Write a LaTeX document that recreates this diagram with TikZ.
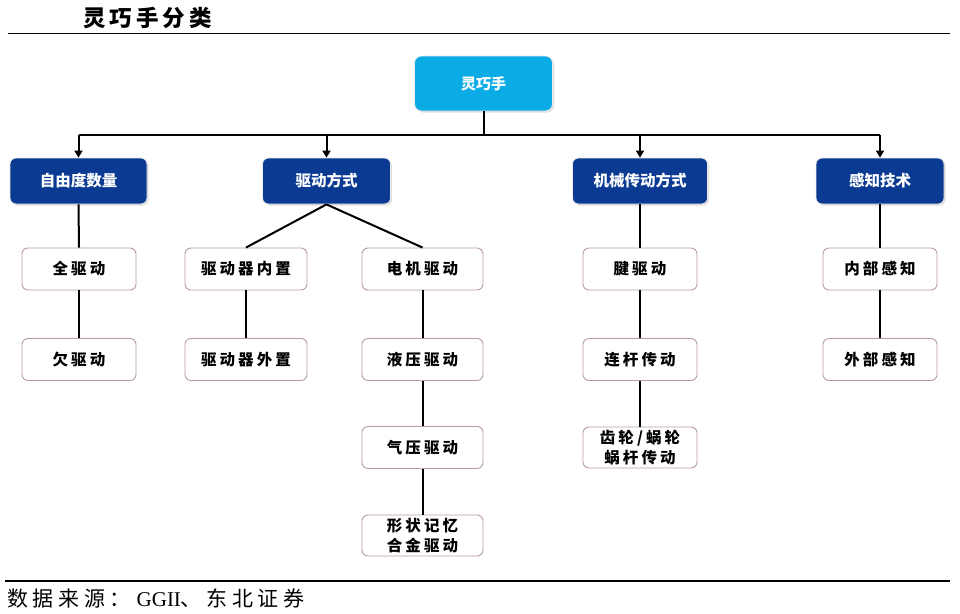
\documentclass[tikz,border=0pt]{standalone}
\usepackage{fontspec}
\setmainfont{Liberation Serif}
\newfontfamily\cjk{Noto Sans CJK SC}
\newfontfamily\cjkw{Noto Sans CJK SC}[LetterSpace=20]
\newfontfamily\cjkt{Noto Sans CJK SC}[LetterSpace=18]
\newfontfamily\cjkf{Noto Sans CJK SC}[LetterSpace=22]
\usetikzlibrary{arrows.meta,shadows}
\definecolor{rootc}{HTML}{0BABE6}
\definecolor{navy}{HTML}{0A3A92}
\definecolor{edgec}{HTML}{B89C9C}
\tikzset{
  rootbox/.style={rounded corners=7pt, fill=rootc, draw=white!85!gray, line width=0.8pt,
    minimum width=138pt, minimum height=55pt, inner sep=0pt,
    text=white, font=\cjk\bfseries\fontsize{15}{18}\selectfont,
    drop shadow={shadow xshift=1.5pt, shadow yshift=-1.5pt, opacity=0.25, fill=gray}},
  catbox/.style={rounded corners=6pt, fill=navy, draw=white!85!gray, line width=0.8pt,
    minimum height=46pt, inner sep=0pt,
    text=white, font=\cjk\bfseries\fontsize{15.5}{18}\selectfont,
    drop shadow={shadow xshift=1.5pt, shadow yshift=-1.5pt, opacity=0.25, fill=gray}},
  leafbox/.style={rounded corners=6pt, fill=white, draw=edgec, line width=0.9pt,
    minimum height=42pt, inner sep=0pt, align=center,
    text=black, font=\cjkw\bfseries\fontsize{15.5}{20}\selectfont},
  conn/.style={line width=2pt, black},
  arr/.style={line width=2pt, black, -{Triangle[width=8pt,length=7pt]}},
  rulel/.style={line width=1.6pt, black}
}
\begin{document}
\begin{tikzpicture}[x=1pt,y=-1pt]
\useasboundingbox (0,0) rectangle (960,613);
% title and rules
\node[anchor=west, inner sep=0pt, font=\cjkt\bfseries\fontsize{22.5}{24}\selectfont] (title) at (83,18) {灵巧手分类};
\coordinate (tl) at (8,33.5);
\coordinate (tr) at (950,33.5);
\draw[rulel] (tl) -- (tr);
\coordinate (fl) at (5,581);
\coordinate (fr) at (950,581);
\draw[rulel] (fl) -- (fr);
\node[anchor=west, inner sep=0pt, font=\fontsize{21}{24}\selectfont] (src) at (7,598) {\cjkf 数据来源：\hspace{6pt}\rmfamily GGII\cjkf 、东北证券};

% root
\node[rootbox] (root) at (483.5,83.5) {灵巧手};
% categories
\node[catbox, minimum width=137pt] (b1) at (78.5,181) {自由度数量};
\node[catbox, minimum width=128pt] (b2) at (326.5,181) {驱动方式};
\node[catbox, minimum width=135pt] (b3) at (640,181) {机械传动方式};
\node[catbox, minimum width=128pt] (b4) at (880,181) {感知技术};

% leaves column 1
\node[leafbox, minimum width=114pt] (a1) at (79,269) {全驱动};
\node[leafbox, minimum width=114pt] (a2) at (79,359.5) {欠驱动};
% column 2
\node[leafbox, minimum width=122pt] (c1) at (246,269) {驱动器内置};
\node[leafbox, minimum width=122pt] (c2) at (246,359.5) {驱动器外置};
% column 3
\node[leafbox, minimum width=121pt] (d1) at (422.5,269) {电机驱动};
\node[leafbox, minimum width=121pt] (d2) at (422.5,359.5) {液压驱动};
\node[leafbox, minimum width=121pt] (d3) at (422.5,447.5) {气压驱动};
\node[leafbox, minimum width=121pt, minimum height=41pt] (d4) at (422.5,535.5) {形状记忆\\合金驱动};
% column 4
\node[leafbox, minimum width=114pt] (e1) at (640,269) {腱驱动};
\node[leafbox, minimum width=114pt] (e2) at (640,359.5) {连杆传动};
\node[leafbox, minimum width=114pt, minimum height=41pt] (e3) at (640,447.5) {齿轮/蜗轮\\蜗杆传动};
% column 5
\node[leafbox, minimum width=114pt] (f1) at (880,269) {内部感知};
\node[leafbox, minimum width=114pt] (f2) at (880,359.5) {外部感知};

% bus
\coordinate (bus) at (483.5,135);
\draw[conn] (root.south) -- (bus);
\draw[conn] (bus -| b1.north) -- (bus -| b4.north);
\foreach \b in {b1,b2,b3,b4}{
  \draw[arr] (bus -| \b.north) -- (\b.north);
}
% links
\draw[conn] (b1.south) -- (a1.north);
\draw[conn] (a1.south) -- (a2.north);
\draw[conn] (b2.south) -- (c1.north);
\draw[conn] (b2.south) -- (d1.north);
\draw[conn] (c1.south) -- (c2.north);
\draw[conn] (d1.south) -- (d2.north);
\draw[conn] (d2.south) -- (d3.north);
\draw[conn] (d3.south) -- (d4.north);
\draw[conn] (b3.south) -- (e1.north);
\draw[conn] (e1.south) -- (e2.north);
\draw[conn] (e2.south) -- (e3.north);
\draw[conn] (b4.south) -- (f1.north);
\draw[conn] (f1.south) -- (f2.north);
\end{tikzpicture}
\end{document}
